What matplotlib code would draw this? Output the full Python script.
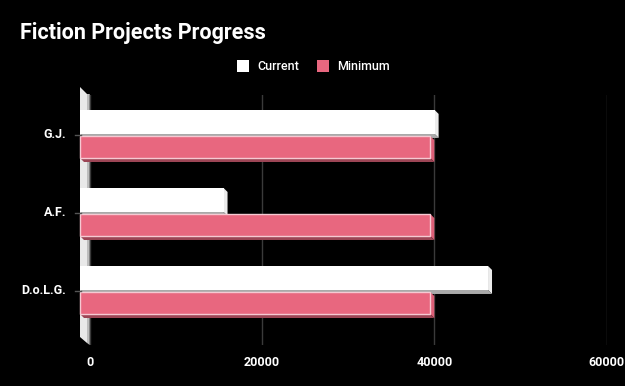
import matplotlib
matplotlib.use("Agg")
import matplotlib.pyplot as plt
from matplotlib.patches import Polygon, Rectangle
from matplotlib.transforms import IdentityTransform

# ---- data ----
categories = ["G.J.", "A.F.", "D.o.L.G."]
current = [40500, 16000, 46700]
minimum = [40000, 40000, 40000]
xticks = [0, 20000, 40000, 60000]
xtick_labels = ["0", "20000", "40000", "60000"]
series_names = ["Current", "Minimum"]

# ---- style ----
W, H = 625, 386
BG = "#000000"
WHITE_FRONT, WHITE_SIDE, WHITE_BOTTOM = "#ffffff", "#ececec", "#a9a9a9"
PINK_FRONT, PINK_SIDE, PINK_BOTTOM, PINK_EDGE = "#e8677f", "#dc5f77", "#9c4555", "#f6c9d2"
GRID = "#3a3a3a"
FONT = "Roboto"
DX, DY = 4, 4        # bar depth in pixels
WALL = 9.7           # wall depth in pixels

plt.rcParams['font.family'] = [FONT, 'DejaVu Sans']

fig = plt.figure(figsize=(W / 100, H / 100), dpi=100, facecolor=BG)
# axes (back plane): x 89.7..606.6, y 95..345 (image coords from top)
ax = fig.add_axes([89.7 / W, (H - 345) / H, (606.6 - 89.7) / W, 250 / H])
ax.set_facecolor(BG)
ax.set_xlim(0, 60000)
ax.set_ylim(2.641, -0.564)
for s in ax.spines.values():
    s.set_visible(False)
ax.set_xticks(xticks)
ax.set_xticklabels(xtick_labels, color="white", fontsize=9, fontweight="bold")
ax.tick_params(axis="x", length=0, pad=8)
ax.set_yticks([])
ax.grid(axis="x", color=GRID, linewidth=1)
ax.set_axisbelow(True)

fig.canvas.draw()
T = ax.transData
IDT = IdentityTransform()

def X(v):
    return T.transform((v, 0))[0]

def Yd(yv):
    return T.transform((0, yv))[1]

L = X(0)
bb = ax.get_window_extent()
top, bot = bb.y1, bb.y0

# left wall
wall = Polygon([(L - WALL, top + 8), (L - 2.7, top + 1), (L - 2.7, bot + 2), (L - WALL, bot + 8)],
               closed=True, facecolor="#e9e9e9", edgecolor="none", transform=IDT, zorder=3)
wall_side = Polygon([(L - 2.7, top + 1), (L, top + 1), (L, bot), (L - 2.7, bot + 2)],
                    closed=True, facecolor="#bdbdbd", edgecolor="none", transform=IDT, zorder=3)
fig.add_artist(wall)
fig.add_artist(wall_side)


def draw_bar(i, v, off, h, front, side, bottom, edge=None, z=4):
    yb_a = Yd(i + off - h / 2)
    yb_b = Yd(i + off + h / 2)
    yb_top, yb_bot = max(yb_a, yb_b), min(yb_a, yb_b)
    xf0 = L - WALL
    xf1 = X(v) - DX
    yt, yb = yb_top + DY, yb_bot + DY
    side_p = Polygon([(xf1, yt), (xf1 + DX, yt - DY), (xf1 + DX, yb - DY), (xf1, yb)],
                     closed=True, facecolor=side, edgecolor="none", transform=IDT, zorder=z)
    bot_p = Polygon([(xf0, yb), (xf1, yb), (xf1 + DX, yb - DY), (xf0 + DX, yb - DY)],
                    closed=True, facecolor=bottom, edgecolor="none", transform=IDT, zorder=z)
    front_p = Rectangle((xf0, yb), xf1 - xf0, yt - yb, facecolor=front,
                        edgecolor=edge if edge else "none", linewidth=1 if edge else 0,
                        transform=IDT, zorder=z + 0.5)
    for p in (side_p, bot_p, front_p):
        fig.add_artist(p)


for i in range(len(categories)):
    draw_bar(i, current[i], -0.167, 0.308, WHITE_FRONT, WHITE_SIDE, WHITE_BOTTOM, z=4 + i * 2)
    draw_bar(i, minimum[i], 0.154, 0.282, PINK_FRONT, PINK_SIDE, PINK_BOTTOM, PINK_EDGE, z=5 + i * 2)
    yc = Yd(i) + DY
    fig.text(66 / W, yc / H, categories[i], color="white", fontsize=9, fontweight="bold",
             ha="right", va="center")
    fig.add_artist(plt.Line2D([75, 81], [yc, yc], color="#555555", linewidth=1,
                              transform=IDT, zorder=20))

# title
fig.text(20 / W, (H - 33) / H, "Fiction Projects Progress", color="white", fontsize=15.5,
         fontweight="bold", ha="left", va="center")

# legend
leg_y = H - 66
fig.add_artist(Rectangle((237, leg_y - 6), 12, 12, facecolor=WHITE_FRONT, edgecolor="none", transform=IDT))
fig.text(257 / W, leg_y / H, series_names[0], color="white", fontsize=9, fontweight="medium",
         ha="left", va="center")
fig.add_artist(Rectangle((317, leg_y - 6), 12, 12, facecolor=PINK_FRONT, edgecolor="none", transform=IDT))
fig.text(337 / W, leg_y / H, series_names[1], color="white", fontsize=9, fontweight="medium",
         ha="left", va="center")

fig.savefig("out.png", dpi=100, facecolor=BG)
